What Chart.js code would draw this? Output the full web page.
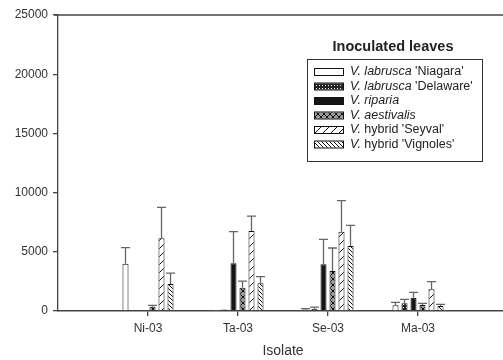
<!DOCTYPE html>
<html>
<head>
<meta charset="utf-8">
<script src="https://cdn.jsdelivr.net/npm/chart.js@4/dist/chart.umd.min.js"></script>
<style>
  html, body { margin: 0; padding: 0; overflow: hidden; background: #fff; }
  #wrap { width: 520px; height: 360px; }
</style>
</head>
<body>
<div id="wrap"><canvas id="c"></canvas></div>
<script>
// categories (empty slots at both ends keep the frame like the original)
const isolates = ['', 'Ni-03', 'Ta-03', 'Se-03', 'Ma-03', ''];
const yTicks = [0, 5000, 10000, 15000, 20000, 25000];

// mean values per cultivar
const niagara    = [null, 4000,   30,  120,  480, null];
const delaware   = [null,   60,  130,  200,  650, null];
const riparia    = [null,    0, 4030, 3940, 1120, null];
const aestivalis = [null,  350, 1970, 3380,  500, null];
const seyval     = [null, 6140, 6760, 6700, 1830, null];
const vignoles   = [null, 2280, 2340, 5490,  420, null];

// upper error (SD)
const niagaraErr    = [null, 1350,    0,   80,  250, null];
const delawareErr   = [null,    0,    0,  130,  340, null];
const ripariaErr    = [null,    0, 2670, 2110,  460, null];
const aestivalisErr = [null,  130,  560, 1940,  150, null];
const seyvalErr     = [null, 2620, 1260, 2620,  650, null];
const vignolesErr   = [null,  920,  560, 1750,  140, null];

// legend labels: [italic part, normal part]
const legendNames = [
  ['V. labrusca', " 'Niagara'"],
  ['V. labrusca', " 'Delaware'"],
  ['V. riparia', ''],
  ['V. aestivalis', ''],
  ['V.', " hybrid 'Seyval'"],
  ['V.', " hybrid 'Vignoles'"]
];

function makeTile(w, h, paint) {
  const c = document.createElement('canvas');
  c.width = w; c.height = h;
  const g = c.getContext('2d');
  paint(g);
  return document.getElementById('c').getContext('2d').createPattern(c, 'repeat');
}

const fills = [
  '#ffffff',
  makeTile(3, 3, g => {
    g.fillStyle = '#222'; g.fillRect(0, 0, 3, 3);
    g.fillStyle = '#fff'; g.fillRect(1, 1, 1, 1);
  }),
  '#151515',
  makeTile(6, 6, g => {
    g.fillStyle = '#9a9a9a'; g.fillRect(0, 0, 6, 6);
    g.strokeStyle = '#111'; g.lineWidth = 1;
    g.beginPath();
    g.moveTo(0, 0); g.lineTo(6, 6);
    g.moveTo(6, 0); g.lineTo(0, 6);
    g.stroke();
  }),
  makeTile(8, 8, g => {
    g.fillStyle = '#fff'; g.fillRect(0, 0, 8, 8);
    g.strokeStyle = '#111'; g.lineWidth = 1;
    g.beginPath();
    g.moveTo(-1, 9); g.lineTo(9, -1);
    g.stroke();
  }),
  makeTile(4, 4, g => {
    g.fillStyle = '#fff'; g.fillRect(0, 0, 4, 4);
    g.strokeStyle = '#111'; g.lineWidth = 1;
    g.beginPath();
    g.moveTo(-1, -1); g.lineTo(5, 5);
    g.moveTo(3, -1); g.lineTo(5, 1);
    g.moveTo(-1, 3); g.lineTo(1, 5);
    g.stroke();
  })
];

const series = [niagara, delaware, riparia, aestivalis, seyval, vignoles];
const errors = [niagaraErr, delawareErr, ripariaErr, aestivalisErr, seyvalErr, vignolesErr];

const errorBars = {
  id: 'errorBars',
  afterDatasetsDraw(chart) {
    const ctx = chart.ctx;
    const y = chart.scales.y;
    ctx.save();
    ctx.strokeStyle = '#666';
    ctx.lineWidth = 1.3;
    chart.data.datasets.forEach((ds, di) => {
      const meta = chart.getDatasetMeta(di);
      meta.data.forEach((bar, i) => {
        const v = ds.data[i], e = errors[di][i];
        if (v == null || !e) return;
        const top = y.getPixelForValue(v + e);
        ctx.beginPath();
        ctx.moveTo(bar.x, bar.y);
        ctx.lineTo(bar.x, top);
        ctx.moveTo(bar.x - 4.5, top);
        ctx.lineTo(bar.x + 4.5, top);
        ctx.stroke();
      });
    });
    ctx.restore();
  }
};

const frameAndLegend = {
  id: 'frameAndLegend',
  afterDraw(chart) {
    const ctx = chart.ctx;
    const a = chart.chartArea;
    ctx.save();
    // top frame line
    ctx.strokeStyle = '#444';
    ctx.lineWidth = 1.3;
    ctx.beginPath();
    ctx.moveTo(a.left - 4, a.top);
    ctx.lineTo(a.right, a.top);
    ctx.stroke();

    // legend title
    ctx.fillStyle = '#222';
    ctx.font = 'bold 14.5px "Liberation Sans", Arial, sans-serif';
    ctx.textAlign = 'center';
    ctx.textBaseline = 'middle';
    ctx.fillText('Inoculated leaves', 393, 47);

    // legend box
    ctx.strokeStyle = '#333';
    ctx.lineWidth = 1;
    ctx.strokeRect(307.5, 59.5, 175, 102);

    ctx.textAlign = 'left';
    legendNames.forEach((n, i) => {
      const yy = 72 + i * 14.5;
      ctx.fillStyle = fills[i];
      ctx.fillRect(314, yy - 3, 29, 6);
      ctx.strokeStyle = '#111';
      ctx.strokeRect(314.5, yy - 3.5, 29, 7);
      ctx.fillStyle = '#222';
      ctx.font = 'italic 12.5px "Liberation Sans", Arial, sans-serif';
      ctx.fillText(n[0], 350, yy);
      const w = ctx.measureText(n[0]).width;
      ctx.font = '12.5px "Liberation Sans", Arial, sans-serif';
      ctx.fillText(n[1], 350 + w, yy);
    });
    ctx.restore();
  }
};

new Chart(document.getElementById('c'), {
  type: 'bar',
  data: {
    labels: isolates,
    datasets: series.map((d, i) => ({
      label: legendNames[i].join(''),
      data: d,
      backgroundColor: fills[i],
      borderColor: '#111',
      borderWidth: 1,
      categoryPercentage: 0.6,
      barPercentage: 0.67
    }))
  },
  options: {
    responsive: true,
    maintainAspectRatio: false,
    animation: false,
    layout: { padding: { top: 15, right: 12, left: 0, bottom: 0 } },
    plugins: { legend: { display: false }, tooltip: { enabled: false } },
    scales: {
      x: {
        offset: false,
        grid: {
          offset: false,
          drawOnChartArea: false,
          drawTicks: true,
          tickLength: 5,
          color: c => (isolates[c.index] ? '#444' : 'rgba(0,0,0,0)'),
          lineWidth: 1.3
        },
        border: { color: '#444', width: 1.5 },
        ticks: {
          color: '#333',
          padding: 5,
          maxRotation: 0,
          autoSkip: false,
          font: { family: '"Liberation Sans", Arial, sans-serif', size: 12 }
        },
        title: {
          display: true,
          text: 'Isolate',
          color: '#333',
          padding: { top: 0, bottom: 0 },
          font: { family: '"Liberation Sans", Arial, sans-serif', size: 14 }
        },
        afterFit: s => { s.height = 49; }
      },
      y: {
        min: 0,
        max: 25000,
        afterBuildTicks: s => { s.ticks = yTicks.map(v => ({ value: v })); },
        grid: {
          drawOnChartArea: false,
          drawTicks: true,
          tickLength: 5,
          color: '#444',
          lineWidth: 1.3
        },
        border: { color: '#444', width: 1.3 },
        ticks: {
          color: '#333',
          padding: 5,
          callback: v => String(v),
          font: { family: '"Liberation Sans", Arial, sans-serif', size: 12 }
        },
        afterFit: s => { s.width = 58; }
      }
    }
  },
  plugins: [errorBars, frameAndLegend]
});
</script>
</body>
</html>
